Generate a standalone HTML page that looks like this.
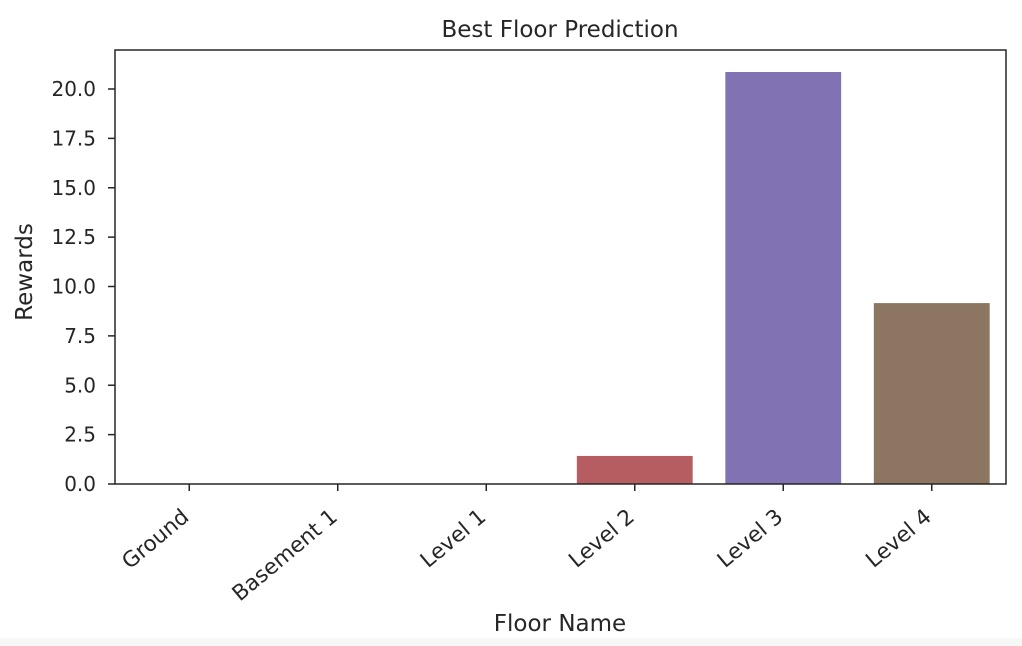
<!DOCTYPE html>
<html><head><meta charset="utf-8"><style>
body{margin:0;background:#fff;}
svg{display:block;font-family:"DejaVu Sans","Liberation Sans",sans-serif;fill:#262626;}
</style></head><body>
<svg id="chart" width="1022" height="646">
<rect x="0" y="0" width="1022" height="646" fill="#fff"/>
<rect x="0" y="638" width="1022" height="8" fill="#f7f7f7"/>
<text x="560" y="37" text-anchor="middle" font-size="23">Best Floor Prediction</text>
<text x="560" y="631" text-anchor="middle" font-size="23">Floor Name</text>
<text transform="translate(32,272) rotate(-90)" text-anchor="middle" font-size="23">Rewards</text>
<g id="bars"></g>
<g id="yticks"></g>
<g id="xticks"></g>
<rect x="115" y="50" width="891" height="434" fill="none" stroke="#262626" stroke-width="1.5"/>
</svg>
<script>
const categories=["Ground","Basement 1","Level 1","Level 2","Level 3","Level 4"];
const values=[0,0,0,1.42,20.86,9.16];
const colors=["#4c72b0","#dd8452","#55a868","#b55d60","#8172b3","#8c7662"];
const yTicks=[0,2.5,5,7.5,10,12.5,15,17.5,20];
const yTickLabels=["0.0","2.5","5.0","7.5","10.0","12.5","15.0","17.5","20.0"];
const L=115,R=1006,B=484,T=50;
const y=v=>B-v*(484-89)/20;
const band=(R-L)/categories.length;
const xc=i=>L+band*(i+0.5);
const NS="http://www.w3.org/2000/svg";
const bars=document.getElementById('bars'),yt=document.getElementById('yticks'),xt=document.getElementById('xticks');
values.forEach((v,i)=>{
  const r=document.createElementNS(NS,'rect');
  const w=band*0.78;
  r.setAttribute('x',xc(i)-w/2);r.setAttribute('width',w);
  r.setAttribute('y',Math.min(y(v),B));r.setAttribute('height',Math.abs(B-y(v)));
  r.setAttribute('fill',colors[i]);
  
  
  bars.appendChild(r);
});
yTicks.forEach((t,i)=>{
  const l=document.createElementNS(NS,'line');
  l.setAttribute('x1',L-7);l.setAttribute('x2',L);l.setAttribute('y1',y(t));l.setAttribute('y2',y(t));
  l.setAttribute('stroke','#262626');l.setAttribute('stroke-width','1.5');
  
  
  yt.appendChild(l);
  const s=document.createElementNS(NS,'text');
  s.setAttribute('x',L-19);s.setAttribute('y',y(t)+7);s.setAttribute('text-anchor','end');s.setAttribute('font-size','20');
  s.textContent=yTickLabels[i];
  
  
  yt.appendChild(s);
});
categories.forEach((c,i)=>{
  const x=xc(i);
  const l=document.createElementNS(NS,'line');
  l.setAttribute('x1',x);l.setAttribute('x2',x);l.setAttribute('y1',B);l.setAttribute('y2',B+7);
  l.setAttribute('stroke','#262626');l.setAttribute('stroke-width','1.5');
  
  
  xt.appendChild(l);
  const s=document.createElementNS(NS,'text');
  s.setAttribute('transform','translate('+(x+1)+','+(B+35)+') rotate(-40)');
  s.setAttribute('text-anchor','end');s.setAttribute('font-size','21.5');
  s.textContent=c;
  
  
  xt.appendChild(s);
});
</script>
</body></html>
